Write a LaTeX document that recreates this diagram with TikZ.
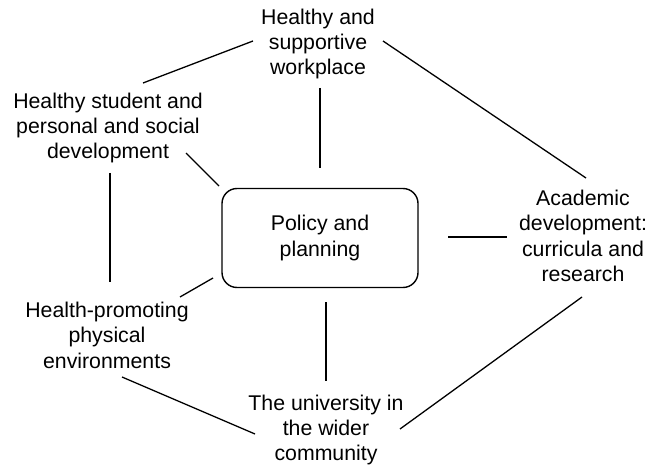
\documentclass[tikz,border=0pt]{standalone}
\usepackage{fontspec}
\setmainfont{Liberation Sans}

\begin{document}
\begin{tikzpicture}[x=1pt,y=-1pt,
	every node/.style={align=center,inner sep=0pt,font=\fontsize{21.3}{25.4}\selectfont},
	link/.style={line width=1.3pt}]

	\useasboundingbox (0,0) rectangle (652,470);

	\node at (320,238) [draw,line width=1.4pt,rounded corners=15pt,minimum width=196pt,minimum height=99pt] (1) {Policy and\\planning};

	\node at (318,44) (2) {Healthy and\\supportive\\workplace};
	\node at (108,128) (3) {Healthy student and\\personal and social\\development};
	\node at (583,236) (4) {Academic\\development:\\curricula and\\research};
	\node at (107,335) (5) {Health-promoting\\physical\\environments};
	\node at (326,430) (6) {The university in\\the wider\\community};

	% outer ring
	\draw[link] ([shift={(-65,-3)}]2.center) to ([shift={(35,-45)}]3.center);
	\draw[link] ([shift={(65,-3)}]2.center) to ([shift={(3,-58)}]4.center);
	\draw[link] ([shift={(2,45)}]3.center) to ([shift={(3,-53)}]5.center);
	\draw[link] ([shift={(15,42)}]5.center) to ([shift={(-71,4)}]6.center);
	\draw[link] ([shift={(-1,61)}]4.center) to ([shift={(74,-1)}]6.center);

	% spokes
	\draw[link] ([shift={(2,44)}]2.center) to ([shift={(0,-70)}]1.center);
	\draw[link] ([shift={(78,25)}]3.center) to ([shift={(-101,-52)}]1.center);
	\draw[link] ([shift={(73,-38)}]5.center) to ([shift={(-107,40)}]1.center);
	\draw[link] ([shift={(-135,1)}]4.center) to ([shift={(187,-1)}]1.center);
	\draw[link] ([shift={(6,64)}]1.center) to ([shift={(0,-49)}]6.center);
\end{tikzpicture}
\end{document}
